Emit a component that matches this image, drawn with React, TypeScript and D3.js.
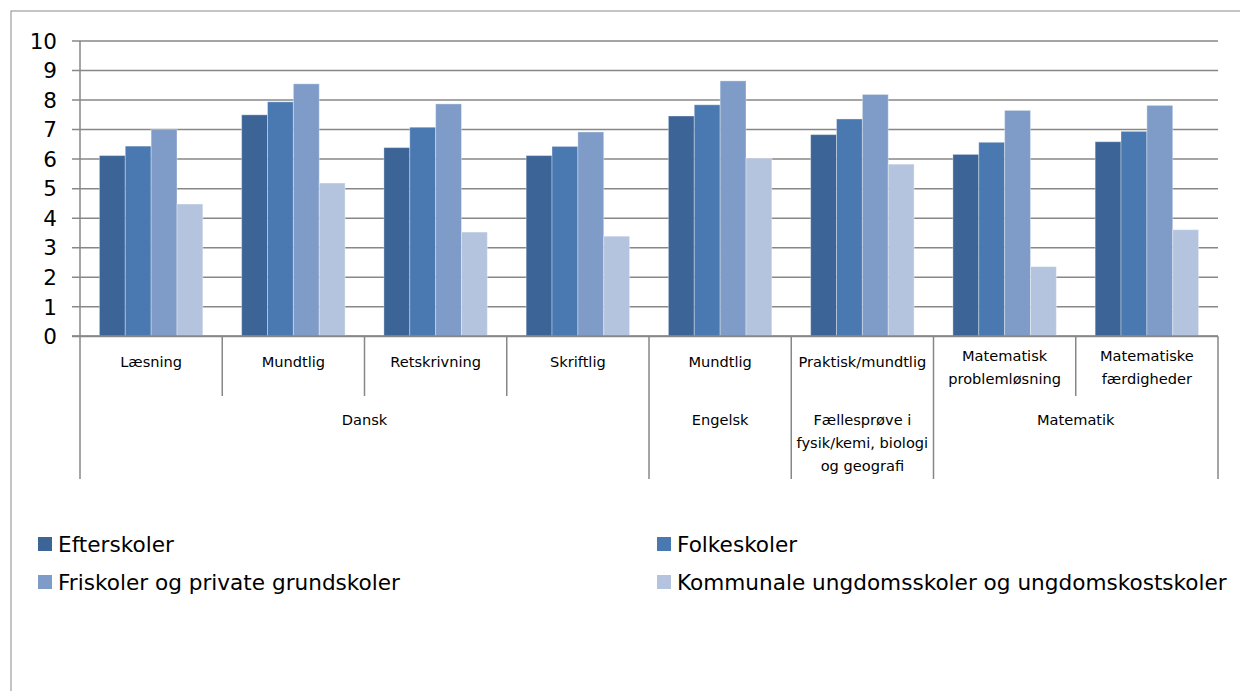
import React, { useEffect, useRef } from "react";
import * as d3 from "d3";

// sub categories (one per bar group)
const subCategories = [
  ["Læsning"],
  ["Mundtlig"],
  ["Retskrivning"],
  ["Skriftlig"],
  ["Mundtlig"],
  ["Praktisk/mundtlig"],
  ["Matematisk", "problemløsning"],
  ["Matematiske", "færdigheder"],
];

// parent categories and how many groups they span
const parentLabels = [
  ["Dansk"],
  ["Engelsk"],
  ["Fællesprøve i", "fysik/kemi, biologi", "og geografi"],
  ["Matematik"],
];
const parentSpans = [4, 1, 1, 2];

const seriesNames = [
  "Efterskoler",
  "Folkeskoler",
  "Friskoler og private grundskoler",
  "Kommunale ungdomsskoler og ungdomskostskoler",
];

const efterskoler = [6.12, 7.5, 6.39, 6.12, 7.46, 6.83, 6.16, 6.59];
const folkeskoler = [6.44, 7.94, 7.08, 6.43, 7.84, 7.36, 6.57, 6.94];
const friskoler = [7.01, 8.55, 7.87, 6.92, 8.65, 8.19, 7.65, 7.82];
const kommunale = [4.48, 5.19, 3.53, 3.39, 6.03, 5.83, 2.36, 3.61];

const yTicks = [0, 1, 2, 3, 4, 5, 6, 7, 8, 9, 10];

const colors = ["#3c6496", "#4a78b0", "#7f9cc8", "#b5c4de"];

const W = 1240;
const H = 691;
const FONT = "'DejaVu Sans', sans-serif";

const App = () => {
  const ref = useRef<SVGSVGElement>(null);

  useEffect(() => {
    if (!ref.current) return;
    const svg = d3.select(ref.current);
    svg.selectAll("*").remove();

    const left = 80;
    const right = 1218;
    const top = 41;
    const bottom = 336.3;

    const series = [efterskoler, folkeskoler, friskoler, kommunale];

    const x = d3
      .scaleBand<number>()
      .domain(d3.range(subCategories.length))
      .range([left, right])
      .paddingInner(0)
      .paddingOuter(0);

    // 150% gap width like the office chart
    const inner = d3
      .scaleBand<number>()
      .domain(d3.range(series.length))
      .range([0, x.bandwidth()])
      .paddingInner(0)
      .paddingOuter(0.75);

    const y = d3.scaleLinear().domain([0, 10]).range([bottom, top]);

    // outer frame
    svg
      .append("rect")
      .attr("x", 11)
      .attr("y", 11)
      .attr("width", W + 20)
      .attr("height", H + 20)
      .attr("fill", "#fff")
      .attr("stroke", "#8a8a8a")
      .attr("stroke-width", 1);

    // gridlines + tick marks
    svg
      .append("g")
      .selectAll("line")
      .data(yTicks)
      .enter()
      .append("line")
      .attr("x1", left - 8)
      .attr("x2", right)
      .attr("y1", (d) => y(d))
      .attr("y2", (d) => y(d))
      .attr("stroke", "#878787")
      .attr("stroke-width", 1.5);

    // y labels
    svg
      .append("g")
      .selectAll("text")
      .data(yTicks)
      .enter()
      .append("text")
      .attr("x", 57)
      .attr("y", (d) => y(d))
      .attr("dy", "0.36em")
      .attr("text-anchor", "end")
      .attr("font-family", FONT)
      .attr("font-size", 21.5)
      .attr("fill", "#000")
      .text((d) => d);

    // bars
    series.forEach((vals, si) => {
      svg
        .append("g")
        .selectAll("rect")
        .data(vals)
        .enter()
        .append("rect")
        .attr("x", (_, i) => (x(i) as number) + (inner(si) as number))
        .attr("width", inner.bandwidth())
        .attr("y", (d) => y(d))
        .attr("height", (d) => y(0) - y(d))
        .attr("fill", colors[si])
        .attr("stroke", "#ffffff")
        .attr("stroke-opacity", 0.35)
        .attr("stroke-width", 1);
    });

    const axisColor = "#878787";
    const level1Bottom = 396;
    const level2Bottom = 479;

    // axis lines
    svg
      .append("line")
      .attr("x1", left - 8)
      .attr("x2", right)
      .attr("y1", bottom)
      .attr("y2", bottom)
      .attr("stroke", axisColor)
      .attr("stroke-width", 2);
    svg
      .append("line")
      .attr("x1", left)
      .attr("x2", left)
      .attr("y1", top)
      .attr("y2", level2Bottom)
      .attr("stroke", axisColor)
      .attr("stroke-width", 1.5);

    // parent boundaries
    const parentEdges: number[] = [];
    let acc = 0;
    parentSpans.forEach((s) => {
      parentEdges.push(acc);
      acc += s;
    });
    const isParentEdge = (i: number) => parentEdges.includes(i) || i === subCategories.length;

    const dividers = svg.append("g");
    d3.range(1, subCategories.length + 1).forEach((i) => {
      const xx = i === subCategories.length ? right : (x(i) as number);
      dividers
        .append("line")
        .attr("x1", xx)
        .attr("x2", xx)
        .attr("y1", bottom)
        .attr("y2", isParentEdge(i) ? level2Bottom : level1Bottom)
        .attr("stroke", axisColor)
        .attr("stroke-width", 1.5);
    });

    // sub category labels
    const subG = svg.append("g");
    subCategories.forEach((lines, i) => {
      const cx = (x(i) as number) + x.bandwidth() / 2;
      const startY = lines.length === 1 ? 362 : 356;
      lines.forEach((ln, li) => {
        subG
          .append("text")
          .attr("x", cx)
          .attr("y", startY + li * 23)
          .attr("dy", "0.36em")
          .attr("text-anchor", "middle")
          .attr("font-family", FONT)
          .attr("font-size", 14.6)
          .attr("fill", "#000")
          .text(ln);
      });
    });

    // parent labels
    const parG = svg.append("g");
    parentLabels.forEach((lines, pi) => {
      const start = parentEdges[pi];
      const end = start + parentSpans[pi];
      const x0 = x(start) as number;
      const x1 = end === subCategories.length ? right : (x(end) as number);
      lines.forEach((ln, li) => {
        parG
          .append("text")
          .attr("x", (x0 + x1) / 2)
          .attr("y", 420 + li * 23)
          .attr("dy", "0.36em")
          .attr("text-anchor", "middle")
          .attr("font-family", FONT)
          .attr("font-size", 14.6)
          .attr("fill", "#000")
          .text(ln);
      });
    });

    // legend
    const legendPos = [
      [38, 544],
      [657, 544],
      [38, 582],
      [657, 582],
    ];
    const leg = svg.append("g");
    seriesNames.forEach((name, i) => {
      const [lx, ly] = legendPos[i];
      leg
        .append("rect")
        .attr("x", lx)
        .attr("y", ly - 7)
        .attr("width", 14)
        .attr("height", 14)
        .attr("fill", colors[i]);
      leg
        .append("text")
        .attr("x", lx + 20)
        .attr("y", ly)
        .attr("dy", "0.36em")
        .attr("font-family", FONT)
        .attr("font-size", 21.6)
        .attr("fill", "#000")
        .text(name);
    });
  }, []);

  return (
    <svg
      ref={ref}
      width={W}
      height={H}
      style={{ position: "absolute", left: 0, top: 0, background: "#fff" }}
    />
  );
};

export default App;
